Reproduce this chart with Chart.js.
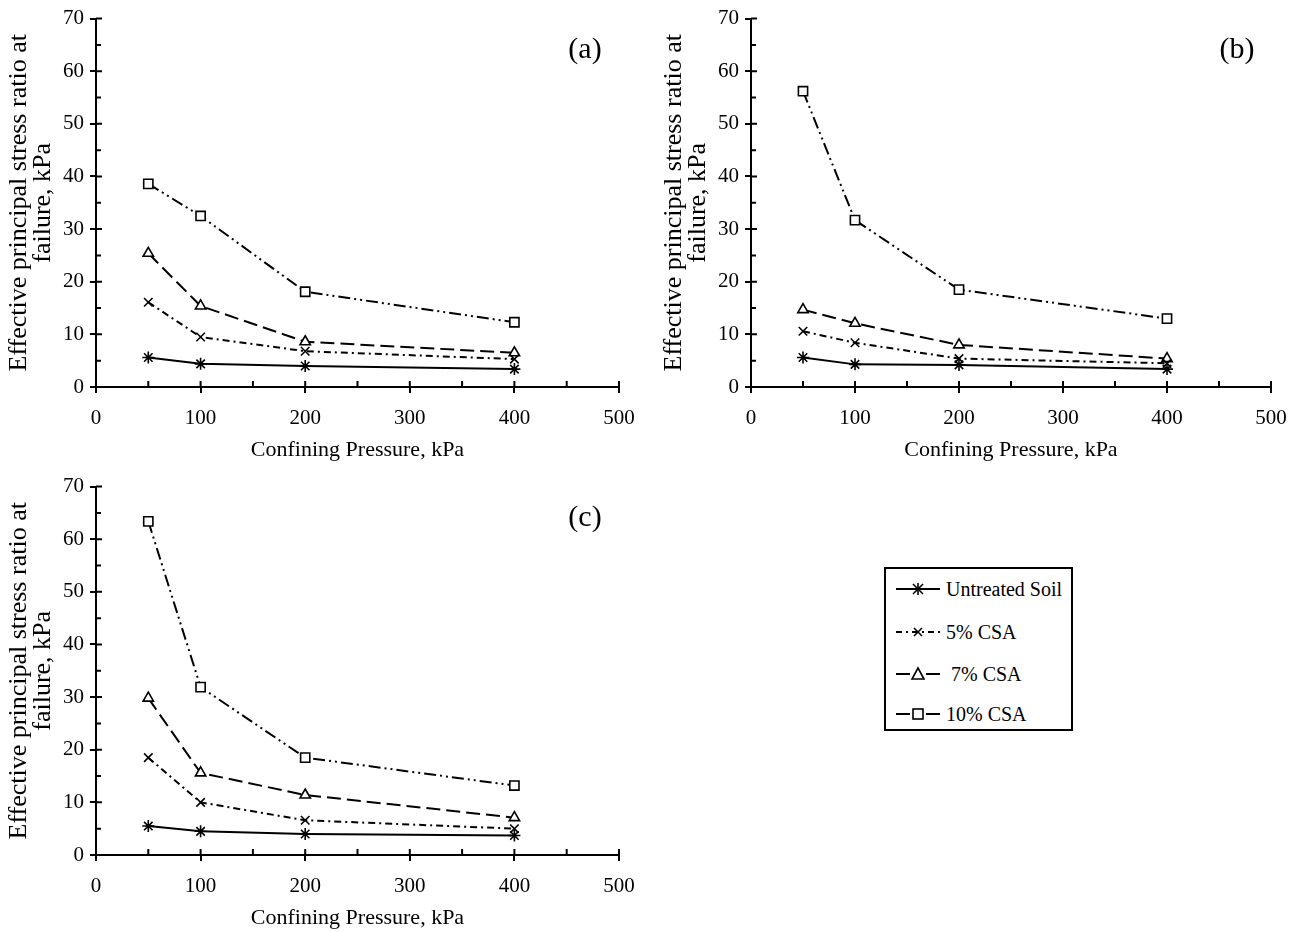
<!DOCTYPE html>
<html>
<head>
<meta charset="utf-8">
<script src="https://cdn.jsdelivr.net/npm/chart.js@4/dist/chart.umd.min.js"></script>
<style>
  html, body { margin: 0; padding: 0; background: #fff; width: 1306px; height: 932px; overflow: hidden; }
  .panel { position: absolute; width: 650px; height: 465px; }
  #legend { position: absolute; left: 884px; top: 567px; width: 185px; height: 160px; border: 2px solid #000;
            font-family: "Liberation Serif", "Times New Roman", serif; font-size: 20px; color: #000; }
  .item { position: absolute; left: 8px; height: 24px; display: flex; align-items: center; }
  .item svg { margin-right: 4px; }
</style>
</head>
<body>
<div class="panel" style="left:0;top:0"><canvas id="ca" width="650" height="465"></canvas></div>
<div class="panel" style="left:655px;top:0"><canvas id="cb" width="650" height="465"></canvas></div>
<div class="panel" style="left:0;top:468px"><canvas id="cc" width="650" height="465"></canvas></div>
<div id="legend">
  <div class="item" style="top:8px">
    <svg width="48" height="20"><line x1="2" y1="10" x2="46" y2="10" stroke="#000" stroke-width="2"/>
      <g stroke="#000" stroke-width="1.6"><line x1="24" y1="4" x2="24" y2="16"/><line x1="19" y1="5" x2="29" y2="15"/><line x1="29" y1="5" x2="19" y2="15"/></g></svg>
    <span>Untreated Soil</span></div>
  <div class="item" style="top:51px">
    <svg width="48" height="20"><line x1="2" y1="10" x2="46" y2="10" stroke="#000" stroke-width="2" stroke-dasharray="6,4,2,4"/>
      <g stroke="#000" stroke-width="1.6"><line x1="20" y1="6" x2="28" y2="14"/><line x1="28" y1="6" x2="20" y2="14"/></g></svg>
    <span>5% CSA</span></div>
  <div class="item" style="top:93px">
    <svg width="48" height="20"><line x1="2" y1="10" x2="16" y2="10" stroke="#000" stroke-width="2"/><line x1="32" y1="10" x2="46" y2="10" stroke="#000" stroke-width="2"/>
      <polygon points="24,4 30,15 18,15" fill="#fff" stroke="#000" stroke-width="1.6"/></svg>
    <span>&nbsp;7% CSA</span></div>
  <div class="item" style="top:133px">
    <svg width="48" height="20"><line x1="2" y1="10" x2="16" y2="10" stroke="#000" stroke-width="2"/><line x1="32" y1="10" x2="46" y2="10" stroke="#000" stroke-width="2"/>
      <rect x="19" y="5" width="10" height="10" fill="#fff" stroke="#000" stroke-width="1.6"/></svg>
    <span>10% CSA</span></div>
</div>
<script>
// ---- data ----
const pressures = [50, 100, 200, 400];
const seriesNames = ['Untreated Soil', '5% CSA', '7% CSA', '10% CSA'];

const a_untreated = [5.6, 4.4, 4.0, 3.4];
const a_csa5 = [16.1, 9.5, 6.8, 5.3];
const a_csa7 = [25.4, 15.4, 8.6, 6.5];
const a_csa10 = [38.6, 32.5, 18.1, 12.3];

const b_untreated = [5.6, 4.3, 4.2, 3.4];
const b_csa5 = [10.6, 8.4, 5.4, 4.5];
const b_csa7 = [14.7, 12.1, 8.0, 5.4];
const b_csa10 = [56.2, 31.7, 18.5, 13.0];

const c_untreated = [5.5, 4.5, 4.0, 3.7];
const c_csa5 = [18.5, 10.0, 6.6, 5.0];
const c_csa7 = [29.8, 15.6, 11.4, 7.1];
const c_csa10 = [63.4, 31.9, 18.5, 13.2];

const xTicks = [0, 100, 200, 300, 400, 500];
const yTicks = [0, 10, 20, 30, 40, 50, 60, 70];

const FONT = '"Liberation Serif", "Times New Roman", serif';

function styles() {
  return [
    { pointStyle: 'star', borderDash: [], pointRadius: 6 },
    { pointStyle: 'crossRot', borderDash: [7, 4, 2, 4], pointRadius: 6 },
    { pointStyle: 'triangle', borderDash: [14, 6], pointRadius: 6 },
    { pointStyle: 'rect', borderDash: [12, 4, 2, 4, 2, 4], pointRadius: 6.5 }
  ];
}

const innerTicks = {
  id: 'innerTicks',
  afterDraw(chart) {
    const ctx = chart.ctx, xs = chart.scales.x, ys = chart.scales.y;
    const area = chart.chartArea;
    ctx.save();
    ctx.strokeStyle = '#000';
    ctx.lineWidth = 2;
    ctx.beginPath();
    for (let v = ys.min; v <= ys.max; v += 5) {
      const y = ys.getPixelForValue(v);
      const len = (v % 10 === 0) ? 6 : 5;
      ctx.moveTo(area.left, y); ctx.lineTo(area.left + len, y);
    }
    for (let v = xs.min; v <= xs.max; v += 50) {
      const x = xs.getPixelForValue(v);
      ctx.moveTo(x, area.bottom); ctx.lineTo(x, area.bottom - 6);
    }
    ctx.stroke();
    const lbl = chart.options.plugins.panelLabel;
    if (lbl) {
      ctx.fillStyle = '#000';
      ctx.font = '30px ' + FONT;
      ctx.textAlign = 'center';
      ctx.textBaseline = 'middle';
      ctx.fillText(lbl, area.right - 34, area.top + 32);
    }
    ctx.restore();
  }
};

function makeChart(id, arrays, label, rightPad) {
  const st = styles();
  const datasets = arrays.map((arr, i) => ({
    label: seriesNames[i],
    data: pressures.map((p, j) => ({ x: p, y: arr[j] })),
    borderColor: '#000',
    backgroundColor: '#fff',
    borderWidth: 2,
    borderDash: st[i].borderDash,
    pointStyle: st[i].pointStyle,
    pointRadius: st[i].pointRadius,
    pointBorderWidth: 1.6,
    pointBackgroundColor: '#fff',
    pointBorderColor: '#000',
    tension: 0
  }));
  return new Chart(document.getElementById(id), {
    type: 'line',
    data: { datasets },
    plugins: [innerTicks],
    options: {
      responsive: false,
      animation: false,
      layout: { padding: { top: 18, right: rightPad, left: 7, bottom: 0 } },
      plugins: { legend: { display: false }, tooltip: { enabled: false }, panelLabel: label },
      scales: {
        x: {
          type: 'linear', min: 0, max: 500,
          afterBuildTicks: s => { s.ticks = xTicks.map(v => ({ value: v })); },
          afterFit: s => { s.height = 78; },
          grid: { display: true, drawOnChartArea: false, drawTicks: true, tickLength: 6, color: '#000', lineWidth: 2 },
          border: { display: true, color: '#000', width: 2 },
          ticks: { color: '#000', font: { family: FONT, size: 21 }, padding: 13, maxRotation: 0 },
          title: { display: true, text: 'Confining Pressure, kPa', color: '#000', font: { family: FONT, size: 22 }, padding: { top: 2, bottom: 2 } }
        },
        y: {
          type: 'linear', min: 0, max: 70,
          afterBuildTicks: s => { s.ticks = yTicks.map(v => ({ value: v })); },
          afterFit: s => { s.width = 89; },
          grid: { display: true, drawOnChartArea: false, drawTicks: true, tickLength: 6, color: '#000', lineWidth: 2 },
          border: { display: true, color: '#000', width: 2 },
          ticks: { color: '#000', font: { family: FONT, size: 21 }, padding: 6 },
          title: { display: true, text: ['Effective principal stress ratio at', 'failure, kPa'], color: '#000',
                   font: { family: FONT, size: 26, lineHeight: 0.92 }, padding: { top: 0, bottom: 2 } }
        }
      }
    }
  });
}

makeChart('ca', [a_untreated, a_csa5, a_csa7, a_csa10], '(a)', 31);
makeChart('cb', [b_untreated, b_csa5, b_csa7, b_csa10], '(b)', 34);
makeChart('cc', [c_untreated, c_csa5, c_csa7, c_csa10], '(c)', 31);
</script>
</body>
</html>
